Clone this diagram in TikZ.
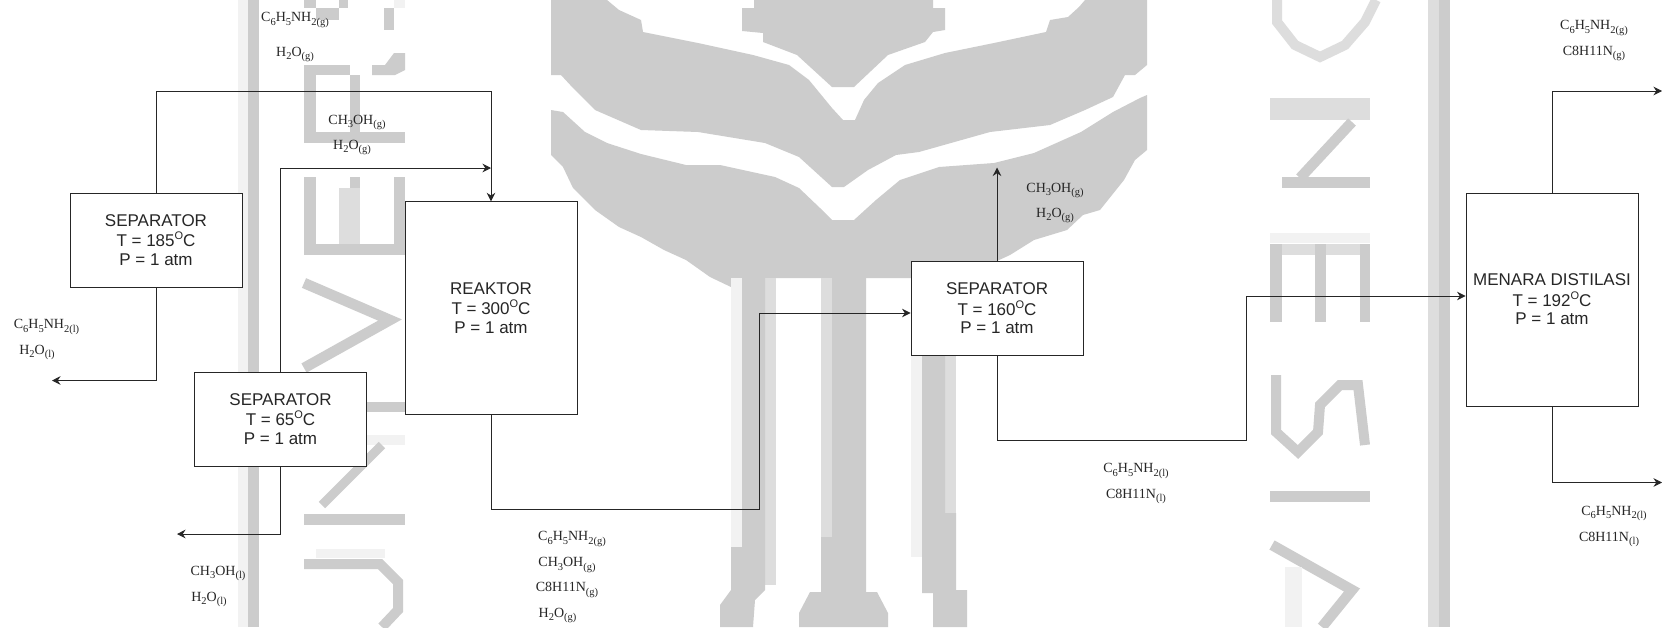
\documentclass[tikz,border=0pt]{standalone}
\usepackage{fontspec}
\setmainfont{Liberation Sans}
\newfontfamily\chemfont{Liberation Serif}
\usetikzlibrary{arrows.meta}
\definecolor{wmd}{HTML}{CCCCCC}
\definecolor{wmm}{HTML}{DDDDDD}
\definecolor{wml}{HTML}{F2F2F2}
\definecolor{ink}{HTML}{262626}
\newcommand{\dn}[1]{\raisebox{-0.22em}{\fontsize{10.5}{10.5}\selectfont #1}}
\newcommand{\degO}{\raisebox{0.42em}{\fontsize{11}{11}\selectfont O}}
\tikzset{
  unitbox/.style={draw=ink,line width=0.9pt,fill=white,align=center,text=ink,
    font=\fontsize{17}{18.5}\selectfont,inner sep=0pt,minimum width=172pt},
  chem/.style={text=ink,inner sep=0pt,font=\chemfont\fontsize{14}{15}\selectfont},
  flow/.style={draw=ink,line width=0.9pt,-{Stealth[length=8.5pt,width=8.5pt]}},
  wmfill/.style={fill=wmd,draw=none},
  wmline/.style={draw=wmd,line width=10.5pt},
}
\begin{document}
\begin{tikzpicture}[x=1pt,y=-1pt]
\useasboundingbox (0,0) rectangle (1662,627);
% --- watermark ---
\fill[white] (0,0) rectangle (1662,627);
\begin{scope}
\clip (0,0) rectangle (1662,627);
\fill[wml] (238,0) rectangle (248,627);
\fill[wmd] (248,0) rectangle (259,627);
\fill[wmm] (1428,0) rectangle (1439,627);
\fill[wmd] (1439,0) rectangle (1450,627);
% top centre piece
\fill[wmfill] (754,0)--(754,8)--(742,8)--(742,31)--(763,33)--(763,42)--(797,55)--(832,87)--(854,87)--(888,55)--(925,42)--(933,32)--(945,30)--(945,8)--(933,8)--(933,0)--cycle;
% upper band
\fill[wmfill] (551,0)--(607,0)--(619,10)--(641,20)--(643,32)--(698,43)--(753,55)--(789,65)--(809,80)--(832,108)--(843,120)--(855,120)--(864,100)--(878,83)--(905,65)--(945,53)--(994,43)--(1046,32)--(1050,20)--(1068,17)--(1079,7)--(1085,0)--(1147,0)--(1147,65)--(1135,75)--(1125,75)--(1113,97)--(1085,110)--(1050,125)--(990,132)--(919,152)--(896,155)--(868,170)--(844,187)--(832,187)--(799,157)--(765,143)--(698,132)--(641,130)--(595,110)--(573,88)--(561,75)--(551,75)--cycle;
% lower shield
\fill[wmfill] (551,110)--(563,112)--(585,132)--(607,143)--(641,154)--(686,165)--(720,165)--(775,177)--(799,188)--(820,208)--(832,220)--(854,220)--(876,200)--(900,180)--(939,167)--(994,163)--(1034,153)--(1081,132)--(1113,112)--(1140,98)--(1147,95)--(1147,150)--(1135,160)--(1124,180)--(1112,195)--(1100,210)--(1083,215)--(1067,230)--(1034,240)--(1010,255)--(960,278)--(820,278)--(765,278)--(731,287)--(710,277)--(686,260)--(664,250)--(641,237)--(619,227)--(595,210)--(573,188)--(563,167)--(551,155)--cycle;
% columns
\fill[wml] (731,278) rectangle (742,547);
\fill[wmm] (765,278) rectangle (776,585);
\fill[wmfill] (742,278)--(765,278)--(765,590)--(755,600)--(753,627)--(720,627)--(720,605)--(731,590)--(731,547)--(742,547)--cycle;
\fill[wmm] (821,278) rectangle (832,537);
\fill[wmfill] (832,278)--(866,278)--(866,592)--(877,592)--(888,613)--(888,627)--(799,627)--(799,613)--(810,592)--(821,592)--(821,537)--(832,537)--cycle;
\fill[wml] (911,278) rectangle (922,557);
\fill[wmm] (945,278) rectangle (956,513);
\fill[wmfill] (922,278)--(945,278)--(945,513)--(956,513)--(956,590)--(967,590)--(967,627)--(933,627)--(933,593)--(922,593)--cycle;
% left letter column
\fill[wmfill] (304,0) rectangle (316,8);
\fill[wmfill] (316,8) rectangle (339,20);
\fill[wmfill] (339,0) rectangle (348,8);
\fill[wmfill] (384,8) rectangle (394,30);
\fill[wml] (394,0) rectangle (405,8);
\fill[wmfill] (304,65) rectangle (350,75);
\fill[wmfill] (304,65) rectangle (316,143);
\fill[wmfill] (350,75) rectangle (360,133);
\fill[wmfill] (304,132) rectangle (405,143);
\fill[wmfill] (372,65) -- (385,65) -- (394,53) -- (405,53) -- (405,70) -- (395,75) -- (372,75) -- cycle;
\fill[wmfill] (304,177) rectangle (316,255);
\fill[wmfill] (394,177) rectangle (405,255);
\fill[wmfill] (304,244) rectangle (405,255);
\fill[wmm] (339,188) rectangle (360,244);
\fill[wmfill] (350,177) rectangle (360,188);
\draw[wmline] (304,283)--(390,320)--(304,368);
\fill[wmfill] (304,402) rectangle (405,412);
\fill[wml] (304,435) rectangle (405,445);
\draw[wmline,line width=9pt] (382,445)--(322,505);
\fill[wmfill] (304,514) rectangle (405,525);
\draw[wmline,line width=10pt] (304,564)--(380,564)--(398,582)--(398,610)--(382,627);
\fill[wml] (316,549) rectangle (385,558);
% right letter column
\draw[wmline,draw=wmm,line width=10pt] (1277,0)--(1277,22)--(1295,45)--(1320,57)--(1345,45)--(1365,22)--(1376,0);
\fill[wmm] (1270,98) rectangle (1370,120);
\draw[wmline] (1352,122)--(1300,178);
\fill[wmfill] (1282,177) rectangle (1370,188);
\fill[wml] (1270,233) rectangle (1370,243);
\fill[wmm] (1270,244) rectangle (1370,255);
\fill[wmfill] (1270,244) rectangle (1282,322);
\fill[wmfill] (1315,244) rectangle (1326,322);
\fill[wmfill] (1360,244) rectangle (1370,322);
\draw[wmline,line width=10pt] (1276,375)--(1276,432)--(1298,452)--(1318,432)--(1320,405)--(1340,385)--(1358,385)--(1365,445);
\fill[wmfill] (1270,491) rectangle (1370,502);
\draw[wmline] (1272,545)--(1352,590)--(1322,627);
\fill[wml] (1285,567) rectangle (1302,627);
\end{scope}
% --- units ---
\node[unitbox,minimum height=94pt] (s185) at (156,240) {SEPARATOR\\[2pt]T = 185\degO C\\P = 1 atm};
\node[unitbox,minimum height=212.5pt] (reaktor) at (491,308) {REAKTOR\\[2pt]T = 300\degO C\\P = 1 atm};
\node[unitbox,minimum height=94pt] (s65) at (280.5,419) {SEPARATOR\\[2pt]T = 65\degO C\\P = 1 atm};
\node[unitbox,minimum height=94pt] (s160) at (997,308.5) {SEPARATOR\\[2pt]T = 160\degO C\\P = 1 atm};
\node[unitbox,minimum height=213pt] (menara) at (1552,299.5) {MENARA DISTILASI\\[2pt]T = 192\degO C\\P = 1 atm};
% --- free ends and bends ---
\coordinate (a1) at (156,91);
\coordinate (a2) at (156,380.5);
\coordinate (e1) at (52,380.5);
\coordinate (a3) at (280.5,168);
\coordinate (e2) at (491,168);
\coordinate (a4) at (280.5,534);
\coordinate (e3) at (177,534);
\coordinate (a5) at (491,509);
\coordinate (a6) at (759,509);
\coordinate (a7) at (759,313);
\coordinate (e4) at (997,167.5);
\coordinate (a8) at (997,440);
\coordinate (a9) at (1246.5,440);
\coordinate (a10) at (1246.5,296);
\coordinate (a11) at (1552,91);
\coordinate (e5) at (1662,91);
\coordinate (a12) at (1552,482.5);
\coordinate (e6) at (1662,482.5);
% --- connectors ---
\draw[flow] (s185.north) -- (a1) -| (reaktor.north);
\draw[flow] (s185.south) -- (a2) -- (e1);
\draw[flow] (s65.north) -- (a3) -- (e2);
\draw[flow] (s65.south) -- (a4) -- (e3);
\draw[flow] (reaktor.south) -- (a5) -- (a6) -- (a7) -- (a7 -| s160.west);
\draw[flow] (s160.north) -- (e4);
\draw[flow] (s160.south) -- (a8) -- (a9) -- (a10) -- (a10 -| menara.west);
\draw[flow] (menara.north) -- (a11) -- (e5);
\draw[flow] (menara.south) -- (a12) -- (e6);
% --- stream labels ---
\node[chem] (l1) at (295,20) {C\dn{6}H\dn{5}NH\dn{2(g)}};
\node[chem] (l2) at (295,54.5) {H\dn{2}O\dn{(g)}};
\node[chem] (l3) at (357,122.5) {CH\dn{3}OH\dn{(g)}};
\node[chem] (l4) at (352,147.5) {H\dn{2}O\dn{(g)}};
\node[chem] (l5) at (46.5,327) {C\dn{6}H\dn{5}NH\dn{2(l)}};
\node[chem] (l6) at (37,352.5) {H\dn{2}O\dn{(l)}};
\node[chem] (l7) at (218,573.5) {CH\dn{3}OH\dn{(l)}};
\node[chem] (l8) at (209,599.5) {H\dn{2}O\dn{(l)}};
\node[chem] (l9) at (572,539) {C\dn{6}H\dn{5}NH\dn{2(g)}};
\node[chem] (l10) at (567,565) {CH\dn{3}OH\dn{(g)}};
\node[chem] (l11) at (567,590) {C8H11N\dn{(g)}};
\node[chem] (l12) at (557.5,615.5) {H\dn{2}O\dn{(g)}};
\node[chem] (l13) at (1055,190.5) {CH\dn{3}OH\dn{(g)}};
\node[chem] (l14) at (1055,215.5) {H\dn{2}O\dn{(g)}};
\node[chem] (l15) at (1136,471) {C\dn{6}H\dn{5}NH\dn{2(l)}};
\node[chem] (l16) at (1136,496.5) {C8H11N\dn{(l)}};
\node[chem] (l17) at (1594,28) {C\dn{6}H\dn{5}NH\dn{2(g)}};
\node[chem] (l18) at (1594,53.5) {C8H11N\dn{(g)}};
\node[chem] (l19) at (1614,513.5) {C\dn{6}H\dn{5}NH\dn{2(l)}};
\node[chem] (l20) at (1609,539) {C8H11N\dn{(l)}};
\end{tikzpicture}
\end{document}
